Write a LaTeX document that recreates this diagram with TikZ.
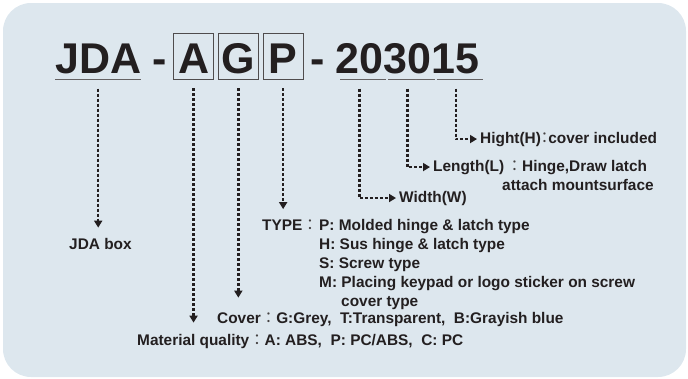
\documentclass[tikz,border=0pt]{standalone}
\usepackage{fontspec}
\setmainfont{Liberation Sans}
\newfontfamily\cjk{Noto Sans CJK TC}
\usetikzlibrary{arrows.meta,positioning}
\definecolor{panel}{HTML}{DDE7EE}
\definecolor{ink}{HTML}{231F20}
\newcommand{\fcol}{{\cjk\mdseries\color{ink!85}：}}
\tikzstyle{bigText} = [inner sep=0pt, font=\fontsize{43}{43}\selectfont\bfseries, text=ink]
\tikzstyle{letterBox} = [bigText, draw=ink!80, line width=0.8pt, minimum width=40pt, minimum height=46pt, text height=34pt, text depth=0pt]
\tikzstyle{lblText} = [inner sep=0pt, anchor=base west, font=\fontsize{15.4}{19}\selectfont\bfseries, text=ink]
\tikzstyle{dotArrow} = [draw=ink, line width=2.5pt, dash pattern=on 3pt off 2pt, -{Triangle[length=7pt,width=8pt]}]
\tikzstyle{uline} = [draw=ink!70, line width=1.5pt]
\begin{document}
\begin{tikzpicture}[x=1pt,y=-1pt]
    \useasboundingbox (0,0) rectangle (688,378);
    \fill[panel, rounded corners=28pt] (3,3) rectangle (686,377);

    % part number
    \node (jda) [bigText, anchor=base west] at (55,73) {JDA};
    \node (dashA) [bigText, base right=11pt of jda] {-};
    \node (boxA) [letterBox, base right=6pt of dashA] {A};
    \node (boxG) [letterBox, base right=4pt of boxA] {G};
    \node (boxP) [letterBox, base right=4pt of boxG] {P};
    \node (dashB) [bigText, base right=7pt of boxP] {-};
    \node (wd) [bigText, base right=10pt of dashB] {20};
    \node (ln) [bigText, base right=0pt of wd] {30};
    \node (ht) [bigText, base right=0pt of ln] {15};

    \draw [uline] ([yshift=-6pt]jda.south west) -- ([yshift=-6pt]jda.south east);
    \foreach \n in {wd,ln,ht}
        \draw [uline] ([xshift=5pt,yshift=-6pt]\n.south west) -- ([xshift=3pt,yshift=-6pt]\n.south east);

    \coordinate (jdaTop) at ([yshift=-15pt]jda.south);
    \coordinate (aTop) at ([yshift=-9pt]boxA.south);
    \coordinate (gTop) at ([yshift=-9pt]boxG.south);
    \coordinate (pTop) at ([yshift=-9pt]boxP.south);
    \coordinate (wdTop) at ([yshift=-15pt]wd.south);
    \coordinate (lnTop) at ([yshift=-15pt]ln.south);
    \coordinate (htTop) at ([yshift=-15pt]ht.south);

    % labels
    \node (jdaBox) [lblText] at (69,249) {JDA box};
    \node (typeHd) [lblText] at (262,230) {TYPE\fcol};
    \node (typeP) [lblText, base right=1pt of typeHd] {P: Molded hinge \& latch type};
    \node (typeH) [lblText] at ([yshift=-19pt]typeP.base west) {H: Sus hinge \& latch type};
    \node (typeS) [lblText] at ([yshift=-19pt]typeH.base west) {S: Screw type};
    \node (typeM) [lblText] at ([yshift=-19pt]typeS.base west) {M: Placing keypad or logo sticker on screw};
    \node (typeM2) [lblText] at ([xshift=22pt,yshift=-19pt]typeM.base west) {cover type};
    \node (cover) [lblText] at (217,323) {Cover\fcol G:Grey,\ \ T:Transparent,\ \ B:Grayish blue};
    \node (matl) [lblText] at (137,345) {Material quality\fcol A: ABS,\ \ P: PC/ABS,\ \ C: PC};
    \node (hight) [lblText] at (480,143) {Hight(H)\hspace{-4pt}\fcol\hspace{-4pt}cover included};
    \node (length) [lblText] at (433,171) {Length(L)\,\fcol Hinge,Draw latch};
    \node (length2) [lblText] at (502,190) {attach mountsurface};
    \node (width) [lblText] at (399,202) {Width(W)};

    % pointers
    \draw [dotArrow, shorten >=10pt] (jdaTop) -- (jdaTop |- jdaBox.north);
    \draw [dotArrow, shorten >=11pt] (aTop) -- (aTop |- matl.north);
    \draw [dotArrow, shorten >=14pt] (gTop) -- (gTop |- cover.north);
    \draw [dotArrow, shorten >=10pt] (pTop) -- (pTop |- typeHd.north);
    \draw [dotArrow, shorten >=3pt] (wdTop) |- (width.west);
    \draw [dotArrow, shorten >=3pt] (lnTop) |- (length.west);
    \draw [dotArrow, shorten >=3pt] (htTop) |- (hight.west);
\end{tikzpicture}
\end{document}
